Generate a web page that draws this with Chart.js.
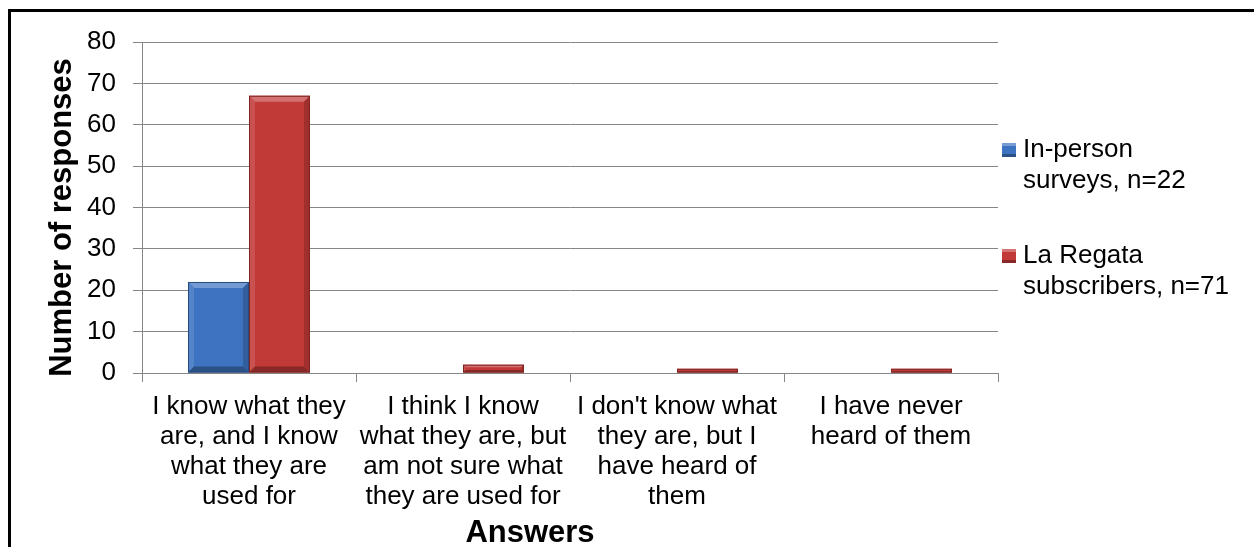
<!DOCTYPE html>
<html>
<head>
<meta charset="utf-8">
<script src="https://cdn.jsdelivr.net/npm/chart.js@4/dist/chart.umd.min.js"></script>
<style>
  html, body { margin: 0; padding: 0; background: #fff; overflow: hidden; }
  #wrap { position: relative; width: 1254px; height: 547px; }
  #c { position: absolute; left: 0; top: 0; }
  #frame { position: absolute; left: 8px; top: 9px; width: 1260px; height: 560px;
           border-top: 3px solid #000; border-left: 3px solid #000; pointer-events: none; }
</style>
</head>
<body>
<div id="wrap">
  <canvas id="c" width="1254" height="547"></canvas>
  <div id="frame"></div>
</div>
<script>
// ---- data ----
const categories = [
  ["I know what they", "are, and I know", "what they are", "used for"],
  ["I think I know", "what they are, but", "am not sure what", "they are used for"],
  ["I don't know what", "they are, but I", "have heard of", "them"],
  ["I have never", "heard of them"]
];
const inPersonLabel = ["In-person", "surveys, n=22"];
const laRegataLabel = ["La Regata", "subscribers, n=71"];
const inPersonValues = [22, 0, 0, 0];
const laRegataValues = [67, 2, 1, 1];
const yTicks = [0, 10, 20, 30, 40, 50, 60, 70, 80];
const yTitle = "Number of responses";
const xTitle = "Answers";

// ---- styles ----
const FONT = "'Liberation Sans', Arial, sans-serif";
const BLUE = "#3d73c0";
const RED = "#c23a38";
const GRID = "#868686";

function shade(hex, amt) {
  const n = parseInt(hex.slice(1), 16);
  let r = (n >> 16) & 255, g = (n >> 8) & 255, b = n & 255;
  const f = v => Math.max(0, Math.min(255, Math.round(amt >= 0 ? v + (255 - v) * amt : v * (1 + amt))));
  return `rgb(${f(r)},${f(g)},${f(b)})`;
}

const bevelPlugin = {
  id: 'bevel',
  afterDatasetsDraw(chart) {
    const ctx = chart.ctx;
    chart.data.datasets.forEach((ds, di) => {
      const meta = chart.getDatasetMeta(di);
      meta.data.forEach(bar => {
        const p = bar.getProps(['x', 'y', 'base', 'width'], true);
        const h = p.base - p.y;
        if (h <= 0.5) return;
        const l = p.x - p.width / 2, r = p.x + p.width / 2, t = p.y, b = p.base;
        const s = Math.min(6, h / 3);
        const col = ds.backgroundColor;
        ctx.save();
        ctx.fillStyle = shade(col, 0.28);
        ctx.beginPath(); ctx.moveTo(l, t); ctx.lineTo(r, t); ctx.lineTo(r - s, t + s); ctx.lineTo(l + s, t + s); ctx.closePath(); ctx.fill();
        ctx.fillStyle = shade(col, 0.12);
        ctx.beginPath(); ctx.moveTo(l, t); ctx.lineTo(l + s, t + s); ctx.lineTo(l + s, b - s); ctx.lineTo(l, b); ctx.closePath(); ctx.fill();
        ctx.fillStyle = shade(col, -0.18);
        ctx.beginPath(); ctx.moveTo(r, t); ctx.lineTo(r - s, t + s); ctx.lineTo(r - s, b - s); ctx.lineTo(r, b); ctx.closePath(); ctx.fill();
        ctx.fillStyle = shade(col, -0.3);
        ctx.beginPath(); ctx.moveTo(l, b); ctx.lineTo(l + s, b - s); ctx.lineTo(r - s, b - s); ctx.lineTo(r, b); ctx.closePath(); ctx.fill();
        ctx.strokeStyle = shade(col, -0.35);
        ctx.lineWidth = 1;
        ctx.strokeRect(l + 0.5, t + 0.5, p.width - 1, h - 1);
        ctx.restore();
      });
    });
  }
};

const annotPlugin = {
  id: 'annot',
  afterDraw(chart) {
    const ctx = chart.ctx, ca = chart.chartArea;
    ctx.save();
    ctx.fillStyle = '#000';
    ctx.font = `bold 31px ${FONT}`;
    ctx.textAlign = 'center';
    ctx.textBaseline = 'middle';
    ctx.save();
    ctx.translate(62, ca.top + (ca.bottom - ca.top) / 2 + 10);
    ctx.rotate(-Math.PI / 2);
    ctx.fillText(yTitle, 0, 0);
    ctx.restore();
    ctx.fillText(xTitle, ca.left + (ca.right - ca.left) / 2 - 40, 533);
    const entries = [
      { lines: inPersonLabel, color: BLUE, y: ca.top + 108 },
      { lines: laRegataLabel, color: RED, y: ca.top + 214 }
    ];
    ctx.font = `26px ${FONT}`;
    ctx.textAlign = 'left';
    entries.forEach(e => {
      const sx = ca.right + 4, sz = 14;
      ctx.fillStyle = e.color;
      ctx.fillRect(sx, e.y - sz / 2, sz, sz);
      ctx.fillStyle = shade(e.color, 0.3);
      ctx.fillRect(sx, e.y - sz / 2, sz, 3);
      ctx.fillStyle = shade(e.color, -0.3);
      ctx.fillRect(sx, e.y + sz / 2 - 3, sz, 3);
      ctx.fillStyle = '#000';
      e.lines.forEach((ln, i) => ctx.fillText(ln, ca.right + 25, e.y + i * 31));
    });
    ctx.restore();
  }
};

new Chart(document.getElementById('c'), {
  type: 'bar',
  data: {
    labels: categories,
    datasets: [
      { label: inPersonLabel.join(' '), data: inPersonValues, backgroundColor: BLUE,
        categoryPercentage: 0.57, barPercentage: 1.0 },
      { label: laRegataLabel.join(' '), data: laRegataValues, backgroundColor: RED,
        categoryPercentage: 0.57, barPercentage: 1.0 }
    ]
  },
  options: {
    responsive: false,
    animation: false,
    devicePixelRatio: 1,
    layout: { padding: { left: 0, top: 42, right: 256, bottom: 0 } },
    plugins: { legend: { display: false }, tooltip: { enabled: false }, title: { display: false } },
    scales: {
      x: {
        offset: true,
        grid: { display: true, drawOnChartArea: false, drawTicks: true, tickLength: 9, color: GRID, offset: true },
        border: { display: true, color: GRID, width: 1 },
        ticks: { color: '#000', font: { family: FONT, size: 26, lineHeight: 1.154 }, padding: 10,
                 maxRotation: 0, minRotation: 0, autoSkip: false },
        afterFit(scale) { scale.height = 547 - 373; }
      },
      y: {
        min: 0, max: 80,
        afterBuildTicks(scale) { scale.ticks = yTicks.map(v => ({ value: v })); },
        grid: { color: GRID, drawTicks: true, tickLength: 9 },
        border: { display: true, color: GRID, width: 1 },
        ticks: { color: '#000', font: { family: FONT, size: 26 }, padding: 17 },
        afterFit(scale) { scale.width = 142; }
      }
    }
  },
  plugins: [bevelPlugin, annotPlugin]
});
</script>
</body>
</html>
